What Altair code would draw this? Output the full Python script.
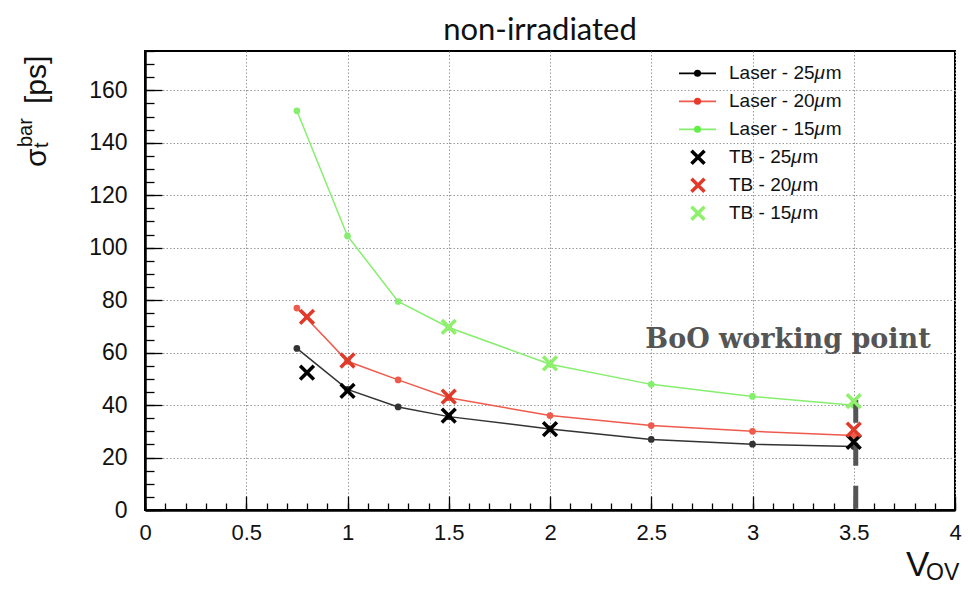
import altair as alt
import pandas as pd

# ---------------- data ----------------
laser_v = [0.75, 1.0, 1.25, 1.5, 2.0, 2.5, 3.0, 3.5]
laser_25 = [61.6, 46.0, 39.3, 35.6, 30.9, 26.9, 25.1, 24.2]
laser_20 = [77.0, 56.7, 49.6, 42.8, 36.0, 32.2, 30.0, 28.4]
laser_15 = [152.2, 104.5, 79.5, 69.6, 55.6, 47.9, 43.3, 39.9]

tb_v_25 = [0.8, 1.0, 1.5, 2.0, 3.5]
tb_25 = [52.4, 45.4, 36.0, 30.8, 26.0]
tb_v_20 = [0.8, 1.0, 1.5, 3.5]
tb_20 = [73.6, 57.0, 43.2, 30.6]
tb_v_15 = [1.5, 2.0, 3.5]
tb_15 = [69.8, 55.9, 41.5]

working_point_v = [3.5]
working_point_top = [42.0]
working_point_bottom = [0.0]

pitches = ["25μm", "20μm", "15μm"]
pitch_numbers = ["25", "20", "15"]
laser_prefix = "Laser - "
tb_prefix = "TB - "

x_major = [0, 0.5, 1, 1.5, 2, 2.5, 3, 3.5, 4]
x_minor = [i / 10 for i in range(0, 41)]
y_major = [0, 20, 40, 60, 80, 100, 120, 140, 160]
y_minor = [i * 5 for i in range(0, 36)]

# ---------------- styling ----------------
dot_colors = ["#000000", "#e8392b", "#62ee48"]
line_colors = ["#333333", "#ee5a4c", "#86ee6e"]
cross_colors = ["#000000", "#e03a2a", "#8ef06c"]
X_PATH = "M-1,-1L1,1M-1,1L1,-1"
SANS = "Liberation Sans"

# ---------------- tables ----------------
laser_rows = []
for p, vals in zip(pitches, [laser_25, laser_20, laser_15]):
    for v, s in zip(laser_v, vals):
        laser_rows.append({"pitch": p, "v": v, "sigma": s})
laser_df = pd.DataFrame(laser_rows)

tb_rows = []
for p, vs, vals in zip(pitches, [tb_v_25, tb_v_20, tb_v_15], [tb_25, tb_20, tb_15]):
    for v, s in zip(vs, vals):
        tb_rows.append({"pitch": p, "v": v, "sigma": s})
tb_df = pd.DataFrame(tb_rows)

wp_df = pd.DataFrame({"v": working_point_v, "top": working_point_top,
                      "bottom": working_point_bottom})

xs = alt.Scale(domain=[0, 4], nice=False, zero=False)
ys = alt.Scale(domain=[0, 175], nice=False, zero=False)


def X(field="v", axis=None):
    return alt.X(f"{field}:Q", scale=xs, axis=axis)


def Y(field="sigma", axis=None):
    return alt.Y(f"{field}:Q", scale=ys, axis=axis)


# ---------------- axes (invisible carrier layers) ----------------
grid_kw = dict(grid=True, gridColor="#9a9a9a", gridDash=[1.5, 2], gridWidth=1)
main_axes = alt.Chart(laser_df).mark_point(opacity=0).encode(
    x=X(axis=alt.Axis(values=x_major, format="~g", ticks=False, domain=True,
                      domainColor="black", domainWidth=2.5, labelFont=SANS,
                      labelFontSize=22, labelColor="#111", labelPadding=12,
                      labelFlush=False, labelOverlap=False, title=None, **grid_kw)),
    y=Y(axis=alt.Axis(values=y_major, format="d", ticks=False, domain=True,
                      domainColor="black", domainWidth=2.5, labelFont=SANS,
                      labelFontSize=23, labelColor="#111", labelPadding=18,
                      labelFlush=False, labelOverlap=False, title=None, **grid_kw)),
)


def tick_layer(xvals, xsize, yvals, ysize):
    return alt.Chart(laser_df).mark_point(opacity=0).encode(
        x=X(axis=alt.Axis(orient="bottom", values=xvals, tickSize=xsize, offset=-xsize,
                          domain=False, labels=False, grid=False, ticks=True,
                          tickColor="black", tickWidth=1.3, title=None)),
        y=Y(axis=alt.Axis(orient="left", values=yvals, tickSize=ysize, offset=-ysize,
                          domain=False, labels=False, grid=False, ticks=True,
                          tickColor="black", tickWidth=1.3, title=None)),
    )


minor_ticks = tick_layer(x_minor, 7, y_minor, 9)
major_ticks = tick_layer(x_major, 14, y_major, 17)

# ---------------- data layers ----------------
laser_lines = alt.Chart(laser_df).mark_line(strokeWidth=1.5).encode(
    x=X(), y=Y(),
    color=alt.Color("pitch:N", scale=alt.Scale(domain=pitches, range=line_colors), legend=None),
    detail="pitch:N",
)
laser_dots = alt.Chart(laser_df).mark_circle(size=45, opacity=1).encode(
    x=X(), y=Y(),
    color=alt.Color("pitch:N", scale=alt.Scale(domain=pitches, range=dot_colors), legend=None),
)
wp_rule = alt.Chart(wp_df).mark_rule(strokeDash=[23, 20], strokeWidth=5, color="#555555",
                                     xOffset=2).encode(
    x=X(), y=Y("top"), y2=alt.Y2("bottom:Q"))
tb_crosses = alt.Chart(tb_df).mark_point(shape=X_PATH, filled=False, size=190,
                                         strokeWidth=3.5, opacity=1).encode(
    x=X(), y=Y(),
    stroke=alt.Stroke("pitch:N", scale=alt.Scale(domain=pitches, range=cross_colors), legend=None),
)

one = pd.DataFrame({"a": [0]})


def text_at(txt, x, y, size, font=SANS, angle=0, align="left", baseline="alphabetic",
            color="#111", weight="normal", style="normal"):
    kw = dict(text=txt, fontSize=size, font=font, align=align, baseline=baseline,
              color=color, fontWeight=weight, fontStyle=style)
    if angle:
        kw["angle"] = angle
    return alt.Chart(one).mark_text(**kw).encode(x=alt.value(x), y=alt.value(y))


annotations = [
    text_at("BoO working point", 643, 297, 27, font="DejaVu Serif", align="center",
            color="#555555", weight="bold"),
    text_at("non-irradiated", 395, -11, 31, font="Lato", align="center", color="#111"),
    # y-axis title  sigma_t^bar [ps]
    text_at("σ", -99, 116, 30, angle=270),
    text_at("t", -97, 97, 20, angle=270),
    text_at("bar", -113, 96, 20, angle=270),
    text_at("[ps]", -99, 53, 30, angle=270),
    # x-axis title V_OV
    text_at("V", 761, 525, 35),
    text_at("OV", 781, 529, 23),
]

# ---------------- legend ----------------
# Liberation Sans (Arial metrics) advance widths, in em
W = {"L": .556, "a": .556, "s": .5, "e": .556, "r": .333, " ": .278, "-": .333,
     "T": .611, "B": .667, "2": .556, "5": .556, "0": .556, "1": .556}
FS = 19


def width(s):
    return sum(W[c] for c in s) * FS


def legend_label(prefix, num, x0, yy):
    head = prefix + num
    xm = x0 + width(head)
    return [
        text_at(head, x0, yy, FS, baseline="middle"),
        text_at("μ", xm, yy, FS, baseline="middle", style="italic"),
        text_at("m", xm + 0.59 * FS, yy, FS, baseline="middle"),
    ]


legend_layers = []
row0, step, tx = 22.3, 28, 584
for i, (num, lc, dc) in enumerate(zip(pitch_numbers, line_colors, dot_colors)):
    yy = row0 + i * step
    legend_layers.append(alt.Chart(one).mark_rule(strokeWidth=1.8, color=lc if i else "#000")
                         .encode(x=alt.value(534), x2=alt.value(571), y=alt.value(yy)))
    legend_layers.append(alt.Chart(one).mark_circle(size=50, opacity=1, color=dc)
                         .encode(x=alt.value(552.5), y=alt.value(yy)))
    legend_layers += legend_label(laser_prefix, num, tx, yy)
for j, (num, cc) in enumerate(zip(pitch_numbers, cross_colors)):
    yy = row0 + (j + 3) * step
    legend_layers.append(alt.Chart(one).mark_point(shape=X_PATH, filled=False, size=170,
                                                   strokeWidth=3.5, opacity=1, color=cc)
                         .encode(x=alt.value(553), y=alt.value(yy)))
    legend_layers += legend_label(tb_prefix, num, tx, yy)

chart = alt.layer(
    main_axes, minor_ticks, major_ticks,
    laser_lines, laser_dots, wp_rule, tb_crosses,
    *annotations, *legend_layers,
).resolve_axis(x="independent", y="independent").properties(
    width=810, height=459,
    autosize=alt.AutoSizeParams(type="none"),
    padding={"left": 137, "top": 43, "right": 7, "bottom": 76},
    background="white",
).configure_view(stroke="black", strokeWidth=2)

chart.save("out.html", embed_options={"renderer": "svg", "actions": False})
